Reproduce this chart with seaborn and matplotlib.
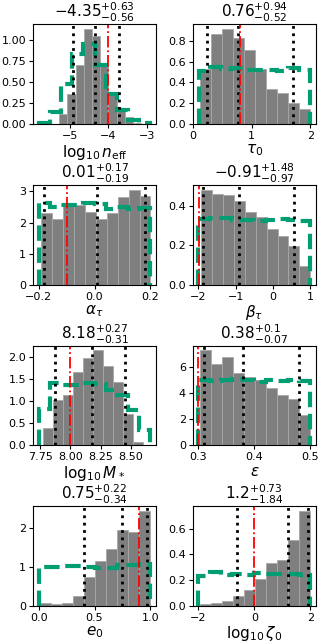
import numpy as np
import matplotlib
matplotlib.use("Agg")
import matplotlib.pyplot as plt
import seaborn as sns
import pandas as pd

# Axis labels, one per parameter
labels = [r"$\log_{10}n_{\rm eff}$", r"$\tau_0$", r"$\alpha_\tau$", r"$\beta_\tau$",
          r"$\log_{10}M_*$", r"$\varepsilon$", r"$e_0$", r"$\log_{10}\zeta_0$"]

# Posterior histogram (density), range of the 10 bins and bar heights
post_range = [(-5.27, -3.15), (0.12, 2.0), (-0.19, 0.2), (-1.93, 1.0),
              (7.775, 8.60), (0.303, 0.5), (0.015, 1.0), (-1.93, 2.0)]
post_heights = [
    [0.12, 0.36, 0.71, 1.13, 1.05, 0.71, 0.375, 0.17, 0.09, 0.02],
    [0.53, 0.86, 0.91, 0.83, 0.71, 0.53, 0.34, 0.30, 0.20, 0.15],
    [2.30, 2.10, 2.59, 2.55, 2.35, 2.10, 2.30, 2.82, 3.05, 2.84],
    [0.48, 0.46, 0.455, 0.425, 0.366, 0.344, 0.28, 0.245, 0.195, 0.097],
    [0.40, 1.03, 1.14, 1.66, 1.98, 2.16, 1.81, 1.44, 0.72, 0.08],
    [7.3, 6.25, 6.8, 5.55, 5.25, 5.04, 4.4, 3.88, 3.54, 2.33],
    [0.07, 0.04, 0.08, 0.27, 0.76, 1.17, 1.48, 1.97, 1.90, 2.45],
    [0.013, 0.02, 0.04, 0.08, 0.126, 0.206, 0.335, 0.36, 0.515, 0.737],
]

# Prior histogram (density), drawn as dashed step outline
prior_range = [(-5.80, -2.91), (0.1, 2.0), (-0.2, 0.2), (-2.0, 1.0),
               (7.735, 8.665), (0.3, 0.5), (0.0, 1.0), (-2.0, 2.0)]
prior_heights = [
    [0.02, 0.14, 0.48, 0.84, 0.95, 0.70, 0.36, 0.17, 0.05, 0.02],
    [0.51, 0.55, 0.53, 0.54, 0.52, 0.52, 0.52, 0.51, 0.54, 0.52],
    [2.62, 2.51, 2.55, 2.57, 2.64, 2.58, 2.43, 2.50, 2.43, 2.48],
    [0.335, 0.34, 0.34, 0.33, 0.325, 0.32, 0.33, 0.335, 0.33, 0.32],
    [0.83, 1.43, 1.37, 1.37, 1.42, 1.40, 1.27, 1.15, 0.80, 0.36],
    [5.05, 4.95, 5.05, 5.1, 5.0, 4.9, 5.05, 4.95, 5.0, 4.95],
    [1.0, 1.0, 1.04, 1.04, 1.0, 0.98, 0.98, 1.06, 1.06, 1.09],
    [0.23, 0.265, 0.24, 0.245, 0.24, 0.255, 0.25, 0.245, 0.25, 0.24],
]

# Summary statistics: median and 16/84 percentile offsets, true values
medians = [-4.35, 0.76, 0.01, -0.91, 8.18, 0.38, 0.75, 1.2]
err_up = [0.63, 0.94, 0.17, 1.48, 0.27, 0.1, 0.22, 0.73]
err_lo = [0.56, 0.52, 0.19, 0.97, 0.31, 0.07, 0.34, 1.84]
truths = [-4.0, 0.8, -0.1, -1.98, 8.0, 0.30, 0.9, 0.0]

xticks = [[-5, -4, -3], [0, 1, 2], [-0.2, 0.0, 0.2], [-2, -1, 0, 1],
          [7.75, 8.00, 8.25, 8.50], [0.3, 0.4, 0.5], [0.0, 0.5, 1.0], [-2, 0, 2]]
xticklabels = [["−5", "−4", "−3"], ["0", "1", "2"], ["−0.2", "0.0", "0.2"],
               ["−2", "−1", "0", "1"], ["7.75", "8.00", "8.25", "8.50"],
               ["0.3", "0.4", "0.5"], ["0.0", "0.5", "1.0"], ["−2", "0", "2"]]
yticks = [[0, 0.25, 0.5, 0.75, 1.0], [0, 0.2, 0.4, 0.6, 0.8], [0, 1, 2, 3],
          [0, 0.2, 0.4], [0, 0.5, 1.0, 1.5, 2.0], [0, 2, 4, 6], [0, 1, 2],
          [0, 0.2, 0.4, 0.6]]

green = sns.color_palette("colorblind")[2]

fig, axes = plt.subplots(4, 2, figsize=(3.27, 6.44), dpi=100)
fig.subplots_adjust(left=0.101, right=0.966, top=0.962, bottom=0.059,
                    wspace=0.30, hspace=0.61)

for i, ax in enumerate(axes.flat):
    # Posterior
    edges = np.linspace(*post_range[i], 11)
    centres = 0.5 * (edges[1:] + edges[:-1])
    df = pd.DataFrame({"x": centres, "w": post_heights[i]})
    sns.histplot(data=df, x="x", weights="w", bins=edges.tolist(), stat="count",
                 color="#7f7f7f", alpha=1, edgecolor="#a8a8a8", linewidth=0.6, ax=ax)

    # Prior
    pedges = np.linspace(*prior_range[i], 11)
    pcentres = 0.5 * (pedges[1:] + pedges[:-1])
    ax.hist(pcentres, bins=pedges, weights=prior_heights[i], histtype="step",
            color=green, ls="--", lw=3)

    # Quantiles and truth
    m = medians[i]
    for q in (m - err_lo[i], m, m + err_up[i]):
        ax.axvline(q, color="k", ls=":", lw=2)
    ax.axvline(truths[i], color="red", ls="-.", lw=1.3)

    ax.set_title(r"$%s^{+%s}_{-%s}$" % (medians[i], err_up[i], err_lo[i]),
                 fontsize=11, pad=2)
    ax.set_xlabel(labels[i], fontsize=11, labelpad=1)
    ax.set_ylabel("")
    ax.set_xticks(xticks[i])
    ax.set_xticklabels(xticklabels[i])
    ax.set_yticks(yticks[i])
    ax.tick_params(labelsize=8, length=3, pad=2)

fig.savefig("out.png", dpi=100)
